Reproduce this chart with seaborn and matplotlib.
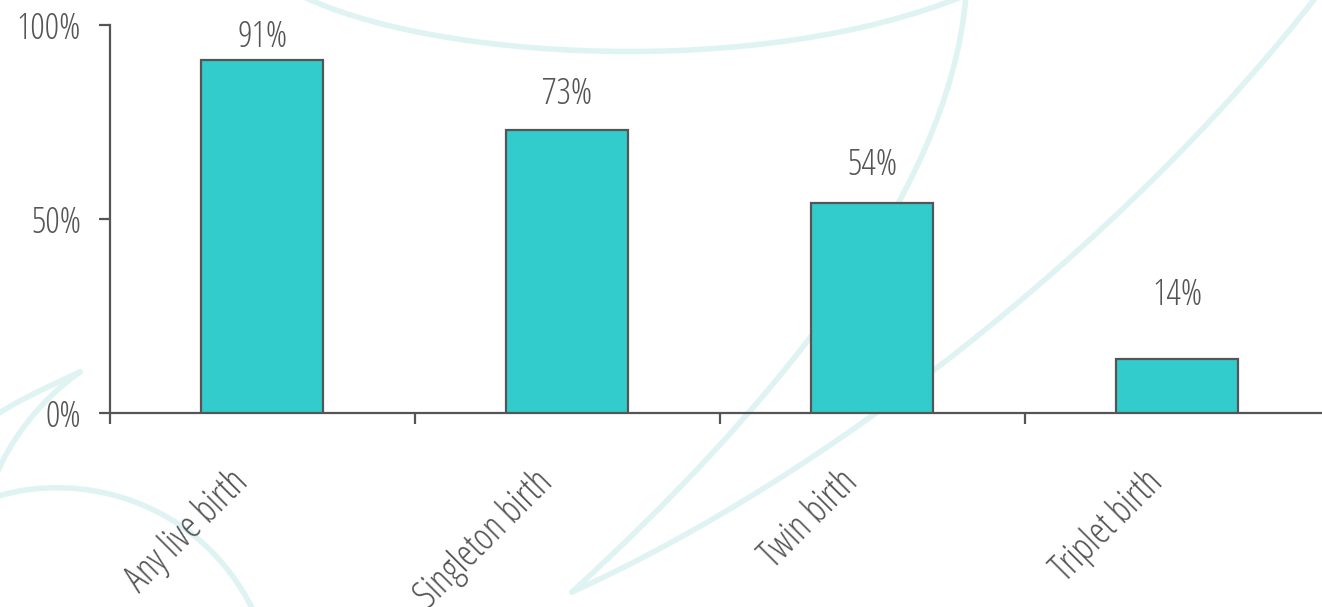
import matplotlib
matplotlib.use("Agg")
import matplotlib.pyplot as plt
import seaborn as sns
import pandas as pd
from matplotlib import font_manager as fm
from matplotlib.path import Path
from matplotlib.patches import PathPatch
from matplotlib.transforms import ScaledTranslation

# Live birth rates by outcome
categories = ["Any live birth", "Singleton birth", "Twin birth", "Triplet birth"]
rates = [91, 73, 54, 14]
# height of each value label's baseline above its bar, in percentage points
label_lift = [3.3, 6.6, 7.3, 13.9]
y_ticks = [0, 50, 100]
y_tick_labels = ["0%", "50%", "100%"]

W, H = 1322, 607
TEXT = "#555555"
BAR = "#33CCCC"
WATER = "#DFF3F3"

sns.set_theme(style="white")


def pick_font():
    """Light, narrow sans: semi-condensed Open Sans if present, else condensed."""
    fonts = fm.fontManager.ttflist
    for stretch, size in (("semi-condensed", 23), ("condensed", 26)):
        for f in fonts:
            if (f.name == "Open Sans" and f.stretch == stretch
                    and f.style == "normal" and f.weight == 300):
                return fm.FontProperties(fname=f.fname), size
    return fm.FontProperties(family="DejaVu Sans"), 20


base_font, base_size = pick_font()


def font(size):
    fp = base_font.copy()
    fp.set_size(size)
    return fp


fig = plt.figure(figsize=(W / 100, H / 100), dpi=100)
fig.patch.set_facecolor("white")

# faint decorative leaf curves in the background (pixel coordinates, origin top-left)
bg = fig.add_axes([0, 0, 1, 1], zorder=-5)
bg.set_xlim(0, W)
bg.set_ylim(H, 0)
bg.axis("off")


def curve(*pts):
    codes = [Path.MOVETO] + [Path.CURVE4] * (len(pts) - 1)
    bg.add_patch(PathPatch(Path(pts, codes), facecolor="none",
                           edgecolor=WATER, lw=4, capstyle="round"))


curve((300, -5), (430, 60), (760, 80), (966, -5))
curve((966, -5), (950, 200), (760, 420), (572, 592))
curve((1320, -8), (1120, 250), (820, 480), (572, 592))
curve((80, 372), (40, 390), (10, 405), (-5, 416))
curve((80, 372), (40, 400), (10, 440), (-5, 478))
curve((-5, 497), (80, 470), (200, 500), (254, 612))

ax = fig.add_axes([110 / W, 1 - 413 / H, 1 - 110 / W, 388 / H])
ax.patch.set_alpha(0)

df = pd.DataFrame({"category": categories, "rate": rates})
sns.barplot(data=df, x="category", y="rate", color=BAR, saturation=1,
            edgecolor=TEXT, linewidth=1.6, width=0.4, ax=ax, zorder=3)

for i, (v, lift) in enumerate(zip(rates, label_lift)):
    ax.text(i, v + lift, f"{v}%", ha="center", va="baseline",
            fontproperties=font(base_size), color=TEXT)

ax.set_ylim(0, 100)
ax.set_xlim(-0.5, 3.474)
ax.set_yticks(y_ticks)
ax.set_yticklabels(y_tick_labels)

# category boundaries carry the tick marks, category centres carry the labels
ax.set_xticks([-0.5, 0.5, 1.5, 2.5])
ax.set_xticklabels([])
ax.set_xticks(range(len(categories)), minor=True)
ax.set_xticklabels(categories, minor=True, rotation=45, ha="right",
                   va="baseline", rotation_mode="anchor")
ax.tick_params(axis="x", which="minor", length=0, pad=45, labelcolor=TEXT)
ax.tick_params(axis="x", which="major", direction="out", length=8, width=1.6,
               color=TEXT, bottom=True)
ax.tick_params(axis="y", direction="out", length=8, width=1.6, color=TEXT,
               left=True, pad=13, labelcolor=TEXT)

# nudge the slanted category labels so they end just left of the bar centre
nudge = ScaledTranslation(-0.13, -0.08, fig.dpi_scale_trans)
for lab in ax.get_xticklabels(minor=True):
    lab.set_fontproperties(font(base_size + 1))
    lab.set_transform(lab.get_transform() + nudge)
for lab in ax.get_yticklabels():
    lab.set_fontproperties(font(base_size))

ax.set_xlabel("")
ax.set_ylabel("")
for side in ("top", "right"):
    ax.spines[side].set_visible(False)
for side in ("left", "bottom"):
    ax.spines[side].set_color(TEXT)
    ax.spines[side].set_linewidth(1.6)

fig.savefig("out.png", dpi=100, facecolor="white")
